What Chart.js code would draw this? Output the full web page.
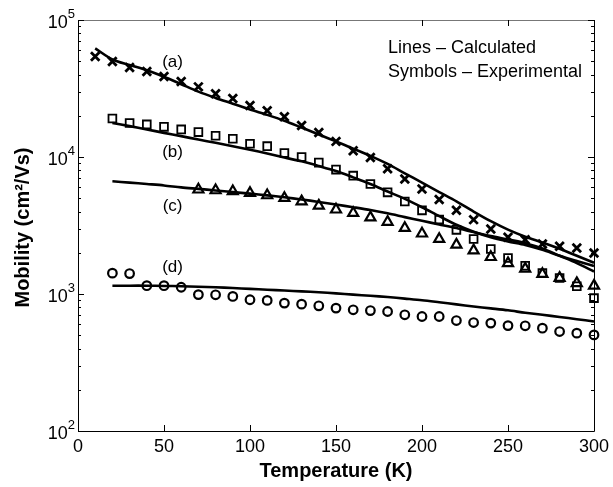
<!DOCTYPE html>
<html>
<head>
<meta charset="utf-8">
<script src="https://cdn.jsdelivr.net/npm/chart.js@4"></script>
<style>
  body { margin: 0; background: #fff; }
  canvas { display: block; }
</style>
</head>
<body>
<canvas id="mob" width="613" height="487"></canvas>
<script>
// temperatures (K)
const tempA = [10,20,30,40,50,60,70,80,90,100,110,120,130,140,150,160,170,180,190,200,210,220,230,240,250,260,270,280,290,300];
const tempB = [20,30,40,50,60,70,80,90,100,110,120,130,140,150,160,170,180,190,200,210,220,230,240,250,260,270,280,290,300];
const tempC = [70,80,90,100,110,120,130,140,150,160,170,180,190,200,210,220,230,240,250,260,270,280,290,300];
const tempD = tempB;

// experimental mobility (cm2/Vs)
const expA = [54200,49800,45000,42100,38700,35600,32500,29000,26700,23800,21800,19700,17000,15100,13000,11100,9900,8220,6920,5850,4890,4080,3490,2980,2600,2490,2320,2230,2170,1990];
const expB = [19100,17700,17300,16600,15900,15200,14300,13600,12500,12000,10700,10000,9100,8090,7310,6360,5520,4740,4080,3490,2940,2520,2130,1830,1610,1420,1310,1140,933];
const expC = [5780,5710,5620,5460,5250,5020,4740,4410,4130,3900,3620,3360,3030,2760,2520,2290,2080,1860,1680,1530,1400,1310,1200,1150];
const expD = [1420,1410,1150,1150,1120,990,987,960,908,898,858,843,820,789,767,757,745,705,685,685,640,619,613,588,586,563,532,518,503];

// calculated mobility (line a from 10 K, the others from 20 K)
const calcA = [62000,51500,47000,43000,38500,34000,30000,27000,24500,22200,20300,18400,16400,14600,13000,11500,10200,8900,7600,6500,5550,4750,4000,3400,2950,2620,2380,2140,1900,1690];
const calcB = [17700,16800,15900,15000,14200,13400,12700,12000,11300,10600,9900,9300,8600,7900,7100,6350,5600,4950,4300,3700,3200,2850,2600,2420,2280,2100,1900,1740,1600];
const calcC = [6650,6500,6350,6200,6000,5850,5700,5550,5400,5250,5080,4900,4700,4500,4300,4100,3880,3640,3420,3220,3030,2830,2650,2500,2350,2150,1900,1680,1460];
const calcD = [1150,1150,1150,1145,1140,1130,1120,1105,1090,1075,1060,1045,1030,1010,990,970,950,925,900,870,840,810,785,760,730,705,680,655,630];

// axis ticks
const xTicks = [0,50,100,150,200,250,300];
const yExps = [2,3,4,5];

const pts = (xs, ys) => xs.map((t, i) => ({x: t, y: ys[i]}));

function lineSet(xs, ys) {
  return {
    type: 'line', data: pts(xs, ys),
    borderColor: '#000', borderWidth: 2.6,
    pointRadius: 0, tension: 0.3, clip: false
  };
}
function markSet(xs, ys, style, r, w) {
  return {
    type: 'scatter', data: pts(xs, ys), showLine: false,
    pointStyle: style, pointRadius: r, borderColor: '#000',
    backgroundColor: 'rgba(0,0,0,0)', pointBorderWidth: w, clip: false
  };
}

const FONT = '"Liberation Sans", Arial, sans-serif';
const tags = [['(a)', 55, 49000], ['(b)', 55, 10900], ['(c)', 55, 4390], ['(d)', 55, 1570]];

const framePlugin = {
  id: 'frame',
  afterDatasetsDraw(chart) {
    const {ctx, chartArea: a, scales: {x, y}} = chart;
    ctx.save();
    ctx.strokeStyle = '#000';
    ctx.lineWidth = 1;
    // box
    ctx.beginPath();
    ctx.moveTo(a.left + 0.5, a.top); ctx.lineTo(a.left + 0.5, a.bottom + 0.5);
    ctx.lineTo(a.right + 0.5, a.bottom + 0.5); ctx.lineTo(a.right + 0.5, a.top);
    ctx.stroke();
    ctx.strokeStyle = '#777';
    ctx.beginPath();
    ctx.moveTo(a.left, a.top + 0.5); ctx.lineTo(a.right + 1, a.top + 0.5);
    ctx.stroke();
    ctx.strokeStyle = '#000';

    // x ticks, bottom and top, pointing in
    ctx.beginPath();
    xTicks.forEach(t => {
      const px = Math.round(x.getPixelForValue(t)) + 0.5;
      ctx.moveTo(px, a.bottom); ctx.lineTo(px, a.bottom - 6);
      ctx.moveTo(px, a.top); ctx.lineTo(px, a.top + 6);
    });
    // y ticks, major + minor, left and right
    yExps.forEach((e, i) => {
      const py = Math.round(y.getPixelForValue(Math.pow(10, e))) + 0.5;
      ctx.moveTo(a.left, py); ctx.lineTo(a.left + 6, py);
      ctx.moveTo(a.right, py); ctx.lineTo(a.right - 6, py);
      if (i < yExps.length - 1) {
        for (let k = 2; k <= 9; k++) {
          const my = Math.round(y.getPixelForValue(k * Math.pow(10, e))) + 0.5;
          ctx.moveTo(a.left, my); ctx.lineTo(a.left + 3, my);
          ctx.moveTo(a.right, my); ctx.lineTo(a.right - 3, my);
        }
      }
    });
    ctx.stroke();

    ctx.fillStyle = '#000';
    // x tick labels
    ctx.font = '18px ' + FONT;
    ctx.textAlign = 'center';
    ctx.textBaseline = 'middle';
    xTicks.forEach(t => ctx.fillText(String(t), x.getPixelForValue(t), a.bottom + 16));

    // y tick labels 10^n
    yExps.forEach(e => {
      const py = y.getPixelForValue(Math.pow(10, e));
      ctx.font = '13px ' + FONT;
      ctx.textAlign = 'right';
      ctx.textBaseline = 'middle';
      const ex = String(e);
      const ew = ctx.measureText(ex).width;
      ctx.fillText(ex, a.left - 3, py - 6);
      ctx.font = '18px ' + FONT;
      ctx.fillText('10', a.left - 3 - ew, py + 3);
    });

    // axis titles
    ctx.font = 'bold 20px ' + FONT;
    ctx.textAlign = 'center';
    ctx.textBaseline = 'middle';
    ctx.fillText('Temperature (K)', (a.left + a.right) / 2, a.bottom + 40);
    ctx.save();
    ctx.translate(23, (a.top + a.bottom) / 2 + 2);
    ctx.rotate(-Math.PI / 2);
    ctx.fillText('Mobility (cm\u00B2/Vs)', 0, 0);
    ctx.restore();

    // curve tags
    ctx.font = '17px ' + FONT;
    tags.forEach(([s, t, v]) => ctx.fillText(s, x.getPixelForValue(t), y.getPixelForValue(v)));

    // note in the corner
    ctx.font = '18px ' + FONT;
    ctx.textAlign = 'left';
    ctx.fillText('Lines \u2013 Calculated', a.left + 310, a.top + 28);
    ctx.fillText('Symbols \u2013 Experimental', a.left + 310, a.top + 52);
    ctx.restore();
  }
};

new Chart(document.getElementById('mob'), {
  data: {
    datasets: [
      lineSet(tempA, calcA),
      lineSet(tempB, calcB),
      lineSet(tempB, calcC),
      lineSet(tempD, calcD),
      markSet(tempA, expA, 'crossRot', 6, 2.8),
      markSet(tempB, expB, 'rect', 5.5, 1.8),
      markSet(tempC, expC, 'triangle', 5.8, 2.2),
      markSet(tempD, expD, 'circle', 4.3, 2.2)
    ]
  },
  options: {
    responsive: false,
    animation: false,
    devicePixelRatio: 1,
    layout: { padding: { left: 78, right: 19, top: 20, bottom: 56 } },
    plugins: { legend: { display: false }, tooltip: { enabled: false } },
    scales: {
      x: { type: 'linear', min: 0, max: 300, display: false },
      y: { type: 'logarithmic', min: 100, max: 100000, display: false }
    }
  },
  plugins: [framePlugin]
});
</script>
</body>
</html>
